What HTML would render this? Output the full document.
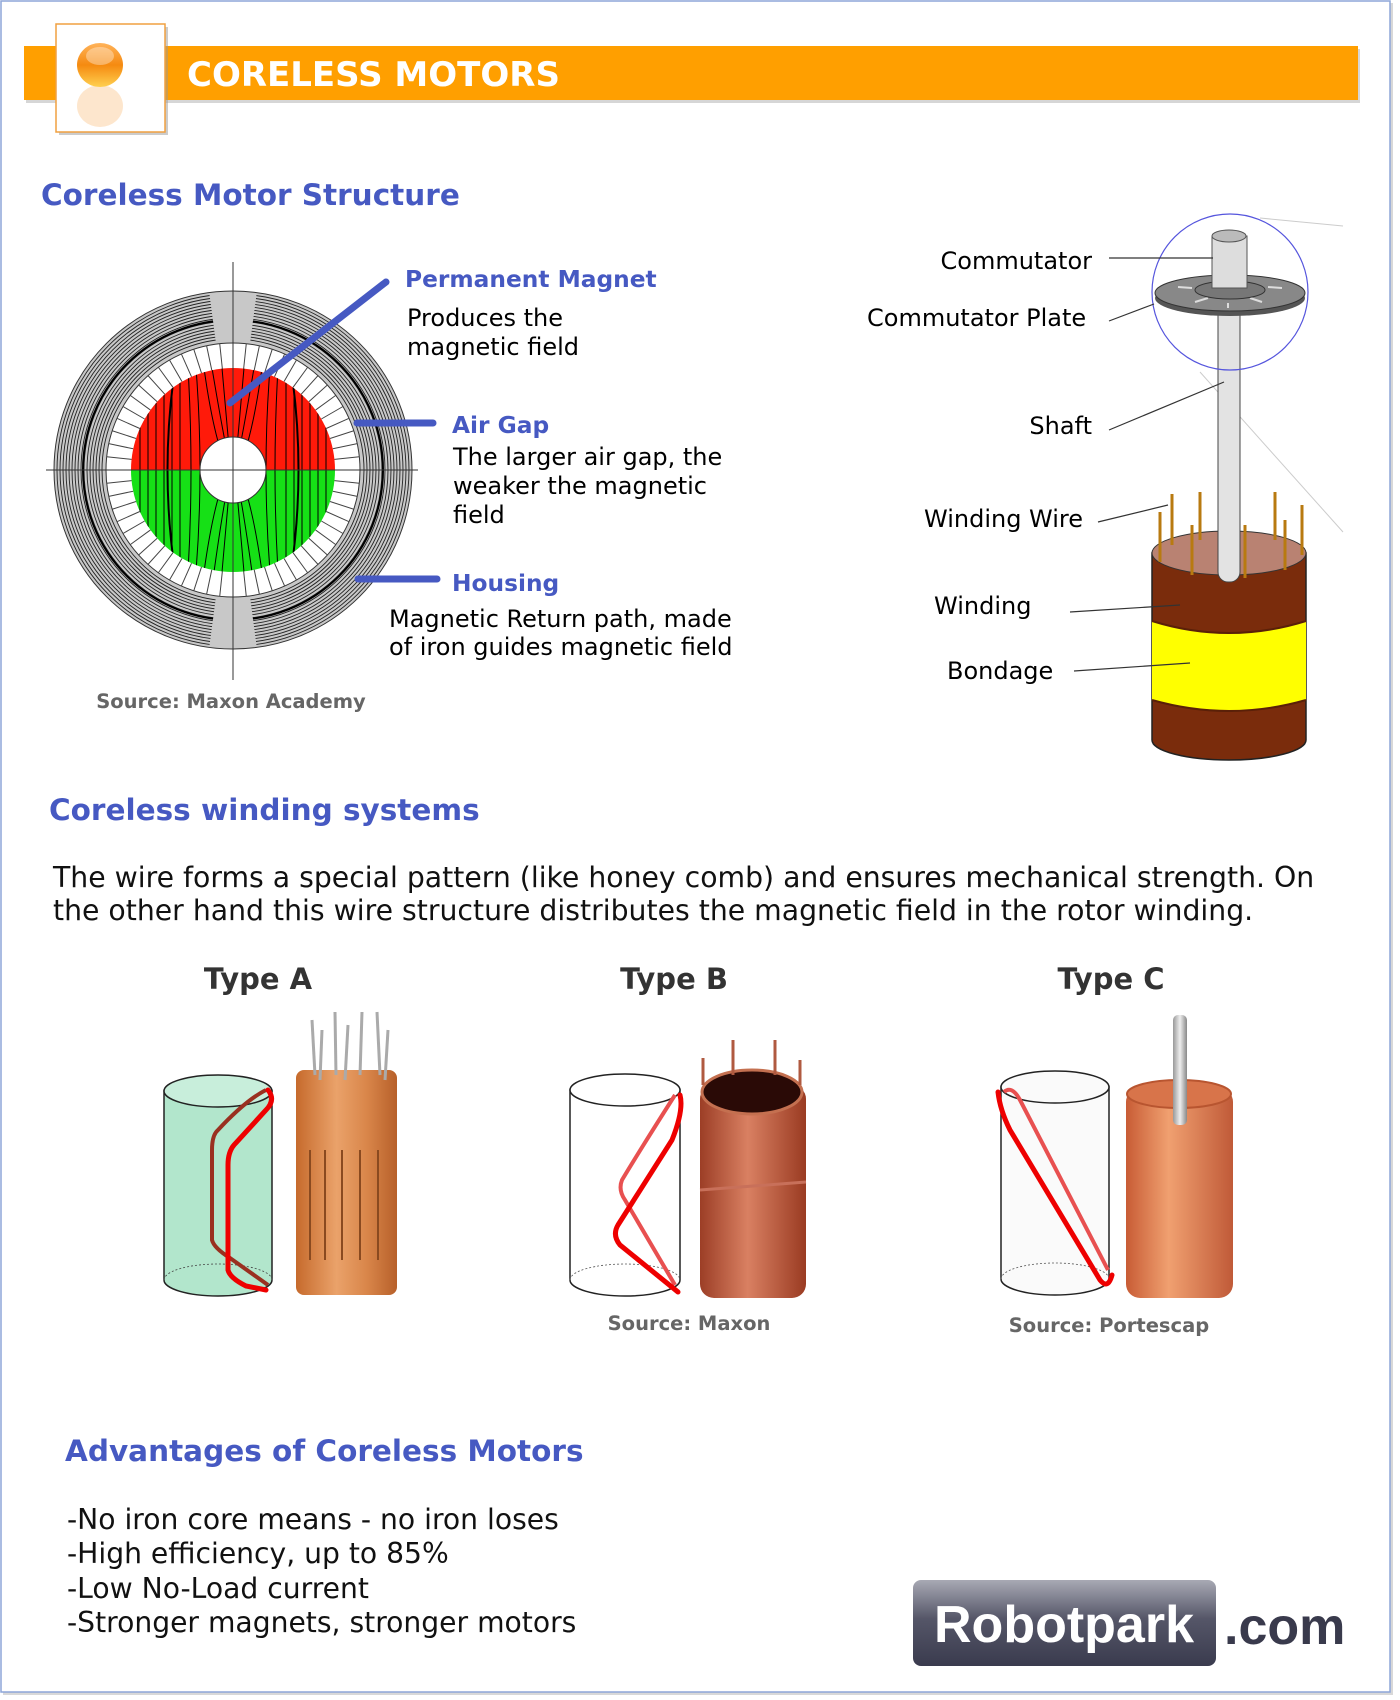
<!DOCTYPE html>
<html><head><meta charset="utf-8"><style>
html,body{margin:0;padding:0;background:#fff;}
svg{display:block;}
text{font-family:"DejaVu Sans","Liberation Sans",sans-serif;}
text.lib{font-family:"Liberation Sans",sans-serif;}
</style></head><body>
<svg width="1400" height="1700" viewBox="0 0 1400 1700" xmlns="http://www.w3.org/2000/svg">
<defs>
<linearGradient id="orb" x1="0" y1="0" x2="0" y2="1"><stop offset="0" stop-color="#ffb35a"/><stop offset="0.5" stop-color="#f58a10"/><stop offset="1" stop-color="#ffd050"/></linearGradient>
<linearGradient id="logo" x1="0" y1="0" x2="0" y2="1"><stop offset="0" stop-color="#a8a9b4"/><stop offset="0.45" stop-color="#555668"/><stop offset="1" stop-color="#3a3b4e"/></linearGradient>
<linearGradient id="copA" x1="0" y1="0" x2="1" y2="0"><stop offset="0" stop-color="#c66a2c"/><stop offset="0.4" stop-color="#eaa26a"/><stop offset="0.7" stop-color="#d9864a"/><stop offset="1" stop-color="#b7602a"/></linearGradient>
<linearGradient id="copB" x1="0" y1="0" x2="1" y2="0"><stop offset="0" stop-color="#9c3e26"/><stop offset="0.45" stop-color="#d98062"/><stop offset="1" stop-color="#9a3b22"/></linearGradient>
<linearGradient id="copC" x1="0" y1="0" x2="1" y2="0"><stop offset="0" stop-color="#c85c35"/><stop offset="0.4" stop-color="#f0a070"/><stop offset="1" stop-color="#c05a38"/></linearGradient>
<linearGradient id="shaft" x1="0" y1="0" x2="1" y2="0"><stop offset="0" stop-color="#999"/><stop offset="0.5" stop-color="#eee"/><stop offset="1" stop-color="#888"/></linearGradient>
<clipPath id="disk"><circle cx="233" cy="470" r="102"/></clipPath>
<clipPath id="sides"><polygon points="233,470 170,0 0,0 0,940 170,940"/><polygon points="233,470 296,0 466,0 466,940 296,940"/></clipPath>
</defs>

<rect x="3" y="3" width="1390" height="1692" fill="#d8d8d8"/>
<rect x="1" y="1" width="1389" height="1691" fill="#fff" stroke="#8ea6d8" stroke-width="1.5"/>

<rect x="26" y="49" width="1334" height="54" fill="#bbb" opacity="0.6"/>
<rect x="24" y="46" width="1334" height="54" fill="#ff9f00"/>
<rect x="59" y="27" width="109" height="108" fill="#999" opacity="0.5"/>
<rect x="56" y="24" width="109" height="108" fill="#fff" stroke="#f0a040" stroke-width="1.5"/>
<ellipse cx="100" cy="106" rx="23" ry="21" fill="#fde0c0" opacity="0.8"/>
<ellipse cx="100" cy="65" rx="23" ry="22" fill="url(#orb)"/>
<ellipse cx="100" cy="56" rx="14" ry="9" fill="#fff" opacity="0.35"/>
<text x="187" y="86" font-weight="bold" font-size="34" fill="#fff">CORELESS MOTORS</text>

<text x="41" y="205" font-weight="bold" font-size="29.5" fill="#4659c2">Coreless Motor Structure</text>

<circle cx="233" cy="470" r="179" fill="#c8c8c8" stroke="#333" stroke-width="1"/>
<g clip-path="url(#sides)" fill="none" stroke="#222" stroke-width="0.9">
<circle cx="233" cy="470" r="131"/><circle cx="233" cy="470" r="134"/><circle cx="233" cy="470" r="137"/><circle cx="233" cy="470" r="140"/><circle cx="233" cy="470" r="143"/><circle cx="233" cy="470" r="146"/><circle cx="233" cy="470" r="149"/><circle cx="233" cy="470" r="152"/><circle cx="233" cy="470" r="155"/><circle cx="233" cy="470" r="158"/><circle cx="233" cy="470" r="161"/><circle cx="233" cy="470" r="164"/><circle cx="233" cy="470" r="167"/><circle cx="233" cy="470" r="170"/><circle cx="233" cy="470" r="173"/><circle cx="233" cy="470" r="176"/>
</g>
<circle cx="233" cy="470" r="150" fill="none" stroke="#000" stroke-width="2" clip-path="url(#sides)"/>
<circle cx="233" cy="470" r="127" fill="#fff" stroke="#333" stroke-width="1"/>
<g stroke="#444" stroke-width="1">
<path d="M233,343V368M233,597V572M106,470H131M360,470H335"/>
<path d="M233,343L233,368" transform="rotate(6 233 470)"/><path d="M233,343L233,368" transform="rotate(12 233 470)"/><path d="M233,343L233,368" transform="rotate(18 233 470)"/><path d="M233,343L233,368" transform="rotate(24 233 470)"/><path d="M233,343L233,368" transform="rotate(30 233 470)"/><path d="M233,343L233,368" transform="rotate(36 233 470)"/><path d="M233,343L233,368" transform="rotate(42 233 470)"/><path d="M233,343L233,368" transform="rotate(48 233 470)"/><path d="M233,343L233,368" transform="rotate(54 233 470)"/><path d="M233,343L233,368" transform="rotate(60 233 470)"/><path d="M233,343L233,368" transform="rotate(66 233 470)"/><path d="M233,343L233,368" transform="rotate(72 233 470)"/><path d="M233,343L233,368" transform="rotate(78 233 470)"/><path d="M233,343L233,368" transform="rotate(84 233 470)"/><path d="M233,343L233,368" transform="rotate(96 233 470)"/><path d="M233,343L233,368" transform="rotate(102 233 470)"/><path d="M233,343L233,368" transform="rotate(108 233 470)"/><path d="M233,343L233,368" transform="rotate(114 233 470)"/><path d="M233,343L233,368" transform="rotate(120 233 470)"/><path d="M233,343L233,368" transform="rotate(126 233 470)"/><path d="M233,343L233,368" transform="rotate(132 233 470)"/><path d="M233,343L233,368" transform="rotate(138 233 470)"/><path d="M233,343L233,368" transform="rotate(144 233 470)"/><path d="M233,343L233,368" transform="rotate(150 233 470)"/><path d="M233,343L233,368" transform="rotate(156 233 470)"/><path d="M233,343L233,368" transform="rotate(162 233 470)"/><path d="M233,343L233,368" transform="rotate(168 233 470)"/><path d="M233,343L233,368" transform="rotate(174 233 470)"/><path d="M233,343L233,368" transform="rotate(186 233 470)"/><path d="M233,343L233,368" transform="rotate(192 233 470)"/><path d="M233,343L233,368" transform="rotate(198 233 470)"/><path d="M233,343L233,368" transform="rotate(204 233 470)"/><path d="M233,343L233,368" transform="rotate(210 233 470)"/><path d="M233,343L233,368" transform="rotate(216 233 470)"/><path d="M233,343L233,368" transform="rotate(222 233 470)"/><path d="M233,343L233,368" transform="rotate(228 233 470)"/><path d="M233,343L233,368" transform="rotate(234 233 470)"/><path d="M233,343L233,368" transform="rotate(240 233 470)"/><path d="M233,343L233,368" transform="rotate(246 233 470)"/><path d="M233,343L233,368" transform="rotate(252 233 470)"/><path d="M233,343L233,368" transform="rotate(258 233 470)"/><path d="M233,343L233,368" transform="rotate(264 233 470)"/><path d="M233,343L233,368" transform="rotate(276 233 470)"/><path d="M233,343L233,368" transform="rotate(282 233 470)"/><path d="M233,343L233,368" transform="rotate(288 233 470)"/><path d="M233,343L233,368" transform="rotate(294 233 470)"/><path d="M233,343L233,368" transform="rotate(300 233 470)"/><path d="M233,343L233,368" transform="rotate(306 233 470)"/><path d="M233,343L233,368" transform="rotate(312 233 470)"/><path d="M233,343L233,368" transform="rotate(318 233 470)"/><path d="M233,343L233,368" transform="rotate(324 233 470)"/><path d="M233,343L233,368" transform="rotate(330 233 470)"/><path d="M233,343L233,368" transform="rotate(336 233 470)"/><path d="M233,343L233,368" transform="rotate(342 233 470)"/><path d="M233,343L233,368" transform="rotate(348 233 470)"/><path d="M233,343L233,368" transform="rotate(354 233 470)"/>
</g>
<path d="M131,470A102,102 0 0 1 335,470Z" fill="#ff1a0a"/>
<path d="M131,470A102,102 0 0 0 335,470Z" fill="#16e016"/>
<g clip-path="url(#disk)" fill="none" stroke="#000" stroke-width="1">
<path d="M140,368V572M148,368V572M156,368V572M164,368V572M172,368V572M180,368V572M188,368Q194,470 188,572M196,368Q204,470 196,572M204,368Q214,440 228,470Q214,500 204,572M212,368Q224,440 231,470M214,572Q224,500 231,470M222,368L231,470L222,572"/>
<path d="M326,368V572M318,368V572M310,368V572M302,368V572M294,368V572M286,368V572M278,368Q272,470 278,572M270,368Q262,470 270,572M262,368Q252,440 238,470Q252,500 262,572M254,368Q242,440 235,470M252,572Q242,500 235,470M244,368L235,470L244,572"/>
<path d="M175,368Q160,470 175,572M291,368Q306,470 291,572" stroke-width="2"/>
</g>
<circle cx="233" cy="470" r="33" fill="#fff" stroke="#333" stroke-width="1"/>
<line x1="233" y1="262" x2="233" y2="680" stroke="#333" stroke-width="1"/>
<line x1="46" y1="470" x2="418" y2="470" stroke="#333" stroke-width="1"/>

<g stroke="#4659c2" stroke-width="7" stroke-linecap="round">
<line x1="230" y1="403" x2="386" y2="282"/>
<line x1="357" y1="423" x2="433" y2="423"/>
<line x1="358" y1="579" x2="437" y2="579"/>
</g>
<g font-size="24">
<text x="405" y="287" font-weight="bold" font-size="23.3" fill="#4659c2">Permanent Magnet</text>
<text x="407" y="326" fill="#000">Produces the</text>
<text x="407" y="355" fill="#000">magnetic field</text>
<text x="452" y="433" font-weight="bold" font-size="23.3" fill="#4659c2">Air Gap</text>
<text x="453" y="465" fill="#000">The larger air gap, the</text>
<text x="453" y="494" fill="#000">weaker the magnetic</text>
<text x="453" y="523" fill="#000">field</text>
<text x="452" y="591" font-weight="bold" font-size="23.3" fill="#4659c2">Housing</text>
<text x="389" y="627" fill="#000">Magnetic Return path, made</text>
<text x="389" y="655" fill="#000">of iron guides magnetic field</text>
</g>
<text x="231" y="708" font-size="19.5" font-weight="bold" fill="#666" text-anchor="middle">Source: Maxon Academy</text>

<g stroke="#ccc" stroke-width="1" fill="none">
<line x1="1260" y1="218" x2="1343" y2="226"/>
<line x1="1200" y1="372" x2="1343" y2="532"/>
</g>
<path d="M1152,553V740A77,20 0 0 0 1306,740V553Z" fill="#7a2c0c" stroke="#222" stroke-width="1.5"/>
<path d="M1152,621Q1229,645 1306,621V700Q1229,722 1152,700Z" fill="#ffff00"/>
<path d="M1152,621Q1229,645 1306,621M1152,700Q1229,722 1306,700" stroke="#5a2008" stroke-width="2" fill="none"/>
<ellipse cx="1229" cy="553" rx="77" ry="22" fill="#b98272" stroke="#333" stroke-width="1"/>
<rect x="1218" y="304" width="22" height="278" rx="10" fill="#e3e3e3" stroke="#444" stroke-width="1"/>
<g stroke="#b87a10" stroke-width="3">
<line x1="1160" y1="512" x2="1160" y2="562"/><line x1="1172" y1="494" x2="1172" y2="545"/><line x1="1192" y1="525" x2="1192" y2="575"/><line x1="1200" y1="492" x2="1200" y2="540"/><line x1="1245" y1="525" x2="1245" y2="578"/><line x1="1275" y1="492" x2="1275" y2="540"/><line x1="1285" y1="520" x2="1285" y2="570"/><line x1="1302" y1="505" x2="1302" y2="555"/>
</g>
<ellipse cx="1230" cy="298" rx="75" ry="18" fill="#555"/>
<ellipse cx="1230" cy="293" rx="75" ry="18" fill="#888" stroke="#333" stroke-width="1"/>
<g stroke="#ddd" stroke-width="2"><line x1="1178" y1="287" x2="1192" y2="288"/><line x1="1268" y1="287" x2="1282" y2="288"/><line x1="1195" y1="302" x2="1208" y2="298"/><line x1="1250" y1="298" x2="1262" y2="302"/><line x1="1228" y1="303" x2="1228" y2="308"/></g>
<ellipse cx="1230" cy="290" rx="35" ry="9" fill="#777" stroke="#333" stroke-width="1"/>
<rect x="1212" y="236" width="35" height="52" fill="#ddd" stroke="#555" stroke-width="1"/>
<ellipse cx="1229" cy="236" rx="17" ry="6" fill="#bbb" stroke="#555" stroke-width="1"/>
<circle cx="1230" cy="292" r="78" fill="none" stroke="#5555dd" stroke-width="1.2"/>
<g stroke="#333" stroke-width="1.2">
<line x1="1109" y1="258" x2="1213" y2="258"/>
<line x1="1109" y1="321" x2="1154" y2="304"/>
<line x1="1109" y1="430" x2="1224" y2="382"/>
<line x1="1098" y1="522" x2="1168" y2="505"/>
<line x1="1070" y1="612" x2="1180" y2="605"/>
<line x1="1074" y1="671" x2="1190" y2="663"/>
</g>
<g font-size="24" fill="#000">
<text x="1092" y="269" text-anchor="end">Commutator</text>
<text x="867" y="326">Commutator Plate</text>
<text x="1092" y="434" text-anchor="end">Shaft</text>
<text x="924" y="527">Winding Wire</text>
<text x="934" y="614">Winding</text>
<text x="947" y="679">Bondage</text>
</g>

<text x="49" y="820" font-weight="bold" font-size="29.5" fill="#4659c2">Coreless winding systems</text>
<text x="53" y="887" font-size="28.3" fill="#111">The wire forms a special pattern (like honey comb) and ensures mechanical strength. On</text>
<text x="53" y="920" font-size="28.3" fill="#111">the other hand this wire structure distributes the magnetic field in the rotor winding.</text>
<g font-size="29" font-weight="bold" fill="#333" text-anchor="middle">
<text x="258" y="989">Type A</text>
<text x="674" y="989">Type B</text>
<text x="1111" y="989">Type C</text>
</g>

<path d="M164,1091V1280A54,16 0 0 0 272,1280V1091Z" fill="#b2e6cc" stroke="#222" stroke-width="1.5"/>
<ellipse cx="218" cy="1091" rx="54" ry="16" fill="#c8eedb" stroke="#222" stroke-width="1.5"/>
<path d="M164,1280A54,16 0 0 1 272,1280" fill="none" stroke="#444" stroke-width="0.8" stroke-dasharray="2 2"/>
<path d="M266,1090Q246,1100 218,1130Q212,1135 212,1150V1240Q214,1248 230,1258L268,1285" fill="none" stroke="#9a3020" stroke-width="4"/>
<path d="M268,1090Q276,1100 266,1110L234,1145Q228,1152 228,1165V1270Q230,1278 246,1286L266,1290" fill="none" stroke="#e00" stroke-width="5" stroke-linecap="round"/>
<rect x="296" y="1070" width="101" height="225" rx="8" fill="url(#copA)"/>
<g stroke="#8a4a20" stroke-width="2"><line x1="310" y1="1150" x2="310" y2="1260"/><line x1="325" y1="1150" x2="325" y2="1260"/><line x1="342" y1="1150" x2="342" y2="1260"/><line x1="360" y1="1150" x2="360" y2="1260"/><line x1="378" y1="1150" x2="378" y2="1260"/></g>
<g stroke="#aaa" stroke-width="3"><line x1="312" y1="1020" x2="315" y2="1075"/><line x1="322" y1="1030" x2="320" y2="1080"/><line x1="335" y1="1012" x2="336" y2="1075"/><line x1="348" y1="1025" x2="345" y2="1080"/><line x1="362" y1="1012" x2="360" y2="1075"/><line x1="377" y1="1012" x2="380" y2="1075"/><line x1="388" y1="1030" x2="385" y2="1080"/></g>

<path d="M570,1090V1280A55,16 0 0 0 680,1280V1090Z" fill="#fff" stroke="#222" stroke-width="1.5"/>
<ellipse cx="625" cy="1090" rx="55" ry="16" fill="#fff" stroke="#222" stroke-width="1.5"/>
<path d="M570,1280A55,16 0 0 1 680,1280" fill="none" stroke="#555" stroke-width="0.8" stroke-dasharray="2 2"/>
<path d="M675,1095Q640,1150 622,1180Q618,1190 625,1200L675,1285" fill="none" stroke="#e85050" stroke-width="4"/>
<path d="M680,1095Q684,1110 672,1140L618,1225Q612,1235 620,1245L678,1292" fill="none" stroke="#e00" stroke-width="5" stroke-linecap="round"/>
<rect x="700" y="1085" width="106" height="213" rx="14" fill="url(#copB)"/>
<ellipse cx="752" cy="1092" rx="50" ry="22" fill="#2a0a06" stroke="#c47050" stroke-width="3"/>
<line x1="700" y1="1190" x2="806" y2="1182" stroke="#c8705a" stroke-width="3"/>
<g stroke="#b05a40" stroke-width="3"><line x1="733" y1="1040" x2="733" y2="1075"/><line x1="775" y1="1040" x2="775" y2="1075"/><line x1="703" y1="1058" x2="703" y2="1085"/><line x1="800" y1="1060" x2="800" y2="1085"/></g>
<text x="689" y="1330" font-size="19.5" font-weight="bold" fill="#666" text-anchor="middle">Source: Maxon</text>

<path d="M1001,1087V1279A54,16 0 0 0 1109,1279V1087Z" fill="#fafafa" stroke="#222" stroke-width="1.5"/>
<ellipse cx="1055" cy="1087" rx="54" ry="16" fill="#fafafa" stroke="#222" stroke-width="1.5"/>
<path d="M1001,1279A54,16 0 0 1 1109,1279" fill="none" stroke="#555" stroke-width="0.8" stroke-dasharray="2 2"/>
<path d="M1004,1092Q1012,1085 1020,1100L1108,1270" fill="none" stroke="#e85050" stroke-width="4"/>
<path d="M998,1092Q1000,1110 1010,1130L1100,1280Q1108,1290 1112,1275" fill="none" stroke="#e00" stroke-width="5" stroke-linecap="round"/>
<rect x="1126" y="1088" width="107" height="210" rx="14" fill="url(#copC)"/>
<ellipse cx="1179" cy="1094" rx="52" ry="14" fill="#d8744a" stroke="#b85530" stroke-width="2"/>
<rect x="1173" y="1015" width="14" height="110" rx="5" fill="url(#shaft)"/>
<text x="1109" y="1332" font-size="19.5" font-weight="bold" fill="#666" text-anchor="middle">Source: Portescap</text>

<text x="65" y="1461" font-weight="bold" font-size="29.5" fill="#4659c2">Advantages of Coreless Motors</text>
<g font-size="28.2" fill="#111">
<text x="67" y="1529">-No iron core means - no iron loses</text>
<text x="67" y="1563">-High efficiency, up to 85%</text>
<text x="67" y="1598">-Low No-Load current</text>
<text x="67" y="1632">-Stronger magnets, stronger motors</text>
</g>

<rect x="913" y="1580" width="303" height="86" rx="8" fill="url(#logo)"/>
<text class="lib" x="1064" y="1642" font-weight="bold" font-size="52" fill="#fff" text-anchor="middle">Robotpark</text>
<text class="lib" x="1224" y="1644" font-weight="bold" font-size="52" fill="#393a4c">.com</text>
</svg>
</body></html>
